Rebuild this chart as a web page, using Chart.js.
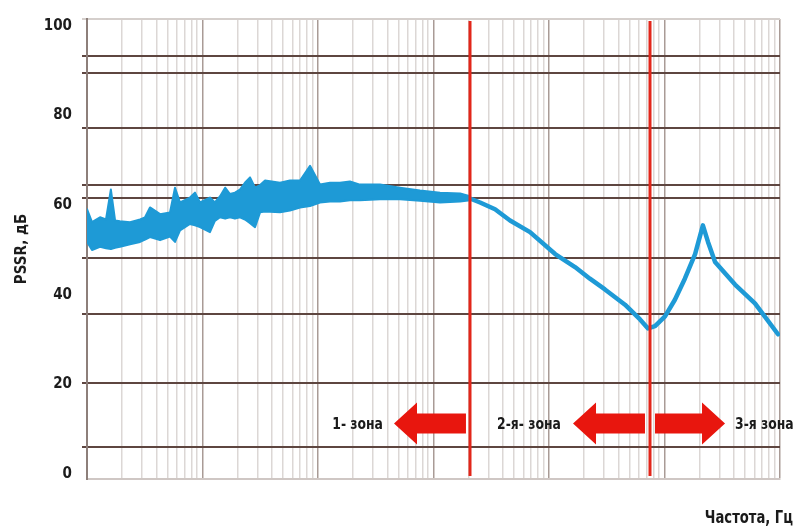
<!DOCTYPE html>
<html>
<head>
<meta charset="utf-8">
<script src="https://cdn.jsdelivr.net/npm/chart.js@4.4.1/dist/chart.umd.min.js"></script>
<style>
  html, body { margin: 0; padding: 0; background: #fff; }
  #wrap { width: 797px; height: 529px; }
</style>
</head>
<body>
<div id="wrap"><canvas id="pssrChart"></canvas></div>
<script>
'use strict';

// noisy low-frequency band: frequency (Hz), upper and lower edge (dB)
const bandFreq = [10, 11.05, 12.96, 14.6, 16.1, 17.5, 19.3, 23.6, 28.8, 31.8, 35.1, 42.9, 52.3, 57.8, 63.9,
    77.9, 86.1, 95.1, 116, 128, 142, 157, 173, 191, 211, 233, 258, 285, 315, 348, 469, 572, 699, 853,
    1040, 1270, 1550, 1890, 2310, 3440, 5130, 7640, 11400, 17000, 20700];
const bandUpper = [59.1, 56.2, 57.3, 56.8, 63.5, 56.6, 56.4, 56.2, 56.8, 57.3, 59.5, 58.0, 58.4, 63.9, 60.6,
    61.7, 62.8, 60.6, 61.7, 60.6, 62.0, 63.9, 62.5, 62.8, 63.5, 65.0, 66.2, 63.9, 64.5, 65.5, 65.0, 65.5, 65.5, 68.8,
    64.6, 65.0, 65.0, 65.3, 64.6, 64.6, 63.9, 63.3, 62.8, 62.6, 62.0];
const bandLower = [51.8, 50.0, 50.7, 50.4, 50.2, 50.5, 50.7, 51.3, 51.8, 52.3, 52.9, 52.2, 53.0, 51.8, 54.4,
    55.8, 55.5, 55.1, 54.0, 56.5, 57.3, 57.0, 57.3, 57.0, 57.3, 56.8, 56.0, 55.1, 58.4, 58.6, 58.4, 58.8, 59.5, 59.8,
    60.6, 60.8, 60.8, 61.1, 61.1, 61.3, 61.3, 61.0, 60.6, 60.8, 61.1];

// smooth part of the curve above the first boundary
const curveFreq = [20700, 25300, 34100, 46000, 68500, 113000, 168000, 226000, 305000, 455000, 614000, 720000,
    828000, 1010000, 1230000, 1500000, 1840000, 2150000, 2380000, 2740000, 4080000, 6070000, 9610000];
const curvePssr = [61.5, 60.6, 59.1, 56.6, 54.0, 49.1, 46.2, 43.6, 41.2, 37.8, 34.5, 32.5,
    33.0, 35.2, 38.9, 43.6, 49.1, 55.5, 51.8, 47.3, 42.3, 38.1, 31.2];

// axes
const yTickLabels = [0, 20, 40, 60, 80, 100];
const yGridLines = [6, 20.4, 35.8, 48.3, 61.5, 64.6, 77.2, 89.4, 93.4];
const yMin = -1.1;
const yMax = 101.55;
const xDecades = [10, 100, 1e3, 1e4, 1e5, 1e6];
const xMultiples = [1, 2, 3, 4, 5, 6, 7, 8, 9];

// zones
const zoneBounds = [20700, 748800];
const zoneNames = ['1- зона', '2-я- зона', '3-я зона'];
const zoneNameFreq = [3650, 35500, 4080000];
const arrowTail = [19100, 677600, 827700];
const arrowTip = [4550, 161400, 3342000];
const arrowLevel = 11.3;

const FONT = "'Liberation Sans Narrow', 'DejaVu Sans Condensed', 'Liberation Sans', sans-serif";
const BLUE = '#1e9ad6';
const SQUEEZE = 0.86; // narrow the canvas-drawn captions a little

const toPoints = (xs, ys) => xs.map((f, i) => ({x: f, y: ys[i]}));

function squeezedText(ctx, text, x, y) {
    ctx.save();
    ctx.translate(x, y);
    ctx.scale(SQUEEZE, 1);
    ctx.fillText(text, 0, 0);
    ctx.restore();
}

// red boundaries, arrows, zone names and the x title
const zoneMarks = {
    id: 'zoneMarks',
    afterDatasetsDraw(chart) {
        const {ctx, chartArea, scales: {x, y}} = chart;
        ctx.save();

        ctx.strokeStyle = '#e2261a';
        ctx.lineWidth = 3;
        zoneBounds.forEach(f => {
            const px = Math.round(x.getPixelForValue(f));
            ctx.beginPath();
            ctx.moveTo(px, chartArea.top + 2);
            ctx.lineTo(px, chartArea.bottom - 3);
            ctx.stroke();
        });

        const cy = y.getPixelForValue(arrowLevel);
        ctx.fillStyle = '#e8160e';
        arrowTail.forEach((t, i) => {
            const x0 = x.getPixelForValue(t);
            const x1 = x.getPixelForValue(arrowTip[i]);
            const xb = x1 - Math.sign(x1 - x0) * 23;
            ctx.beginPath();
            ctx.moveTo(x0, cy - 10);
            ctx.lineTo(xb, cy - 10);
            ctx.lineTo(xb, cy - 21);
            ctx.lineTo(x1, cy);
            ctx.lineTo(xb, cy + 21);
            ctx.lineTo(xb, cy + 10);
            ctx.lineTo(x0, cy + 10);
            ctx.closePath();
            ctx.fill();
        });

        ctx.fillStyle = '#1a1a1a';
        ctx.font = 'bold 16px ' + FONT;
        ctx.textBaseline = 'middle';
        zoneNames.forEach((name, i) => {
            ctx.textAlign = i === 0 ? 'right' : 'left';
            squeezedText(ctx, name, x.getPixelForValue(zoneNameFreq[i]), cy + 1);
        });

        ctx.font = 'bold 17px ' + FONT;
        ctx.textAlign = 'right';
        squeezedText(ctx, 'Частота, Гц', chart.width - 4, 519);
        ctx.restore();
    }
};

new Chart(document.getElementById('pssrChart'), {
    type: 'line',
    data: {
        datasets: [{
            data: toPoints(bandFreq, bandUpper),
            borderColor: BLUE,
            borderWidth: 2,
            fill: false
        }, {
            data: toPoints(bandFreq, bandLower),
            borderColor: BLUE,
            borderWidth: 2,
            backgroundColor: BLUE,
            fill: '-1'
        }, {
            data: toPoints(curveFreq, curvePssr),
            borderColor: BLUE,
            borderWidth: 4.5,
            tension: 0,
            fill: false
        }]
    },
    options: {
        responsive: true,
        maintainAspectRatio: false,
        animation: false,
        layout: {padding: {top: 15, right: 17, bottom: 50, left: 0}},
        elements: {
            point: {radius: 0, hoverRadius: 0},
            line: {borderJoinStyle: 'round', borderCapStyle: 'round'}
        },
        plugins: {
            legend: {display: false},
            tooltip: {enabled: false}
        },
        scales: {
            x: {
                type: 'logarithmic',
                min: 10,
                max: 1e7,
                afterBuildTicks: s => {
                    const t = [];
                    xDecades.forEach(d => xMultiples.forEach(m => t.push({value: d * m, major: m === 1})));
                    t.push({value: 1e7, major: true});
                    s.ticks = t;
                },
                afterFit: s => { s.height = 0; },
                ticks: {display: false},
                grid: {
                    color: c => (c.tick && c.tick.major) ? '#a99b96' : '#dcd7d5',
                    lineWidth: 1.5,
                    drawTicks: false
                },
                border: {color: '#cfc7c4', width: 2}
            },
            y: {
                min: yMin,
                max: yMax,
                afterBuildTicks: s => {
                    s.ticks = [...yTickLabels, ...yGridLines, yMax]
                        .sort((a, b) => a - b)
                        .map(v => ({value: v}));
                },
                afterFit: s => { s.width = 87; },
                ticks: {
                    autoSkip: false,
                    padding: 10,
                    color: '#1c1c1c',
                    font: {family: FONT, size: 15, weight: 'bold'},
                    callback: v => yTickLabels.includes(v) ? String(v) : ''
                },
                grid: {
                    color: c => {
                        const v = c.tick ? c.tick.value : null;
                        if (yGridLines.includes(v)) return '#5e4640';
                        if (v === yMax) return '#d5cfcc';
                        return 'rgba(0,0,0,0)';
                    },
                    lineWidth: 2,
                    tickLength: 5
                },
                border: {color: '#8d7f7a', width: 2},
                title: {
                    display: true,
                    text: 'PSSR, дБ',
                    color: '#1c1c1c',
                    font: {family: FONT, size: 15, weight: 'bold'},
                    padding: {top: 13, bottom: 0}
                }
            }
        }
    },
    plugins: [zoneMarks]
});
</script>
</body>
</html>
